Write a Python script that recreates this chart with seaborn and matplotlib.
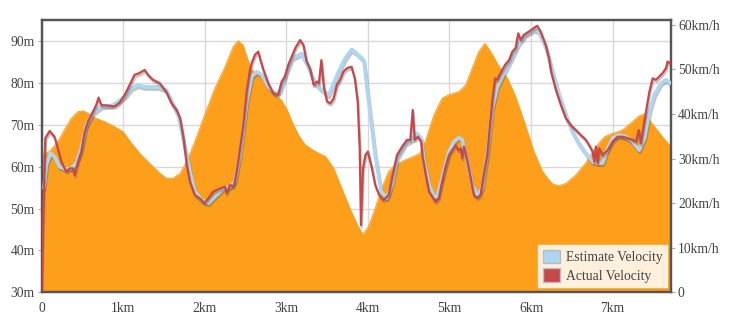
import matplotlib
matplotlib.use("Agg")
import matplotlib.pyplot as plt
import matplotlib.patheffects as pe
from matplotlib.patches import Patch
from matplotlib.ticker import FuncFormatter, MultipleLocator
import seaborn as sns
import pandas as pd

# Elevation profile along the route (distance km, elevation m)
elev_km = [0.0, 0.10, 0.20, 0.28, 0.365, 0.447, 0.509, 0.57, 0.67, 0.775, 0.897, 1.0,
           1.10, 1.22, 1.345, 1.45, 1.53, 1.615, 1.70, 1.78, 1.88, 2.0, 2.126, 2.25,
           2.35, 2.41, 2.47, 2.53, 2.576, 2.637, 2.74, 2.86, 2.94, 3.02, 3.07, 3.15,
           3.23, 3.355, 3.48, 3.58, 3.68, 3.78, 3.87, 3.94, 4.01, 4.09, 4.17, 4.255,
           4.335, 4.46, 4.56, 4.64, 4.71, 4.81, 4.91, 4.99, 5.12, 5.20, 5.28, 5.36,
           5.435, 5.505, 5.61, 5.71, 5.81, 5.93, 6.035, 6.14, 6.22, 6.265, 6.345, 6.43,
           6.55, 6.67, 6.795, 6.90, 7.0, 7.12, 7.22, 7.325, 7.39, 7.45, 7.53, 7.61, 7.715]
elev_m = [62.8, 63.6, 65.9, 68.7, 71.5, 73.1, 73.3, 72.7, 71.5, 70.7, 69.5, 68.3,
          65.6, 62.8, 60.4, 58.4, 57.2, 57.2, 58.4, 61.2, 65.9, 72.3, 78.7, 83.8,
          88.6, 90.0, 89.0, 85.4, 83.1, 82.3, 80.3, 77.1, 75.9, 73.1, 70.7, 67.5,
          65.2, 63.6, 62.4, 59.6, 54.8, 50.0, 46.1, 43.8, 45.7, 50.0, 54.8, 58.8,
          60.4, 61.6, 62.4, 63.2, 66.3, 72.3, 76.3, 77.1, 77.9, 79.5, 83.5, 87.4,
          89.4, 87.4, 83.8, 81.1, 76.7, 69.9, 63.6, 58.8, 56.8, 55.8, 55.4, 56.0,
          58.0, 60.8, 64.7, 67.1, 67.9, 68.7, 70.3, 72.1, 72.5, 71.1, 69.1, 67.1, 64.7]

# Estimated velocity (distance km, km/h)
est_km = [0.03, 0.06, 0.11, 0.16, 0.22, 0.284, 0.365, 0.426, 0.488, 0.55, 0.63, 0.733,
          0.855, 0.94, 1.02, 1.10, 1.18, 1.265, 1.43, 1.53, 1.676, 1.76, 1.82, 1.88,
          1.963, 2.044, 2.126, 2.228, 2.31, 2.37, 2.433, 2.515, 2.576, 2.637, 2.70,
          2.78, 2.86, 2.92, 3.005, 3.07, 3.19, 3.25, 3.355, 3.44, 3.52, 3.64, 3.72,
          3.80, 3.866, 3.95, 4.01, 4.09, 4.164, 4.234, 4.295, 4.357, 4.46, 4.54, 4.60,
          4.654, 4.69, 4.75, 4.81, 4.85, 4.91, 4.994, 5.055, 5.116, 5.157, 5.22, 5.28,
          5.34, 5.40, 5.463, 5.525, 5.586, 5.668, 5.75, 5.85, 5.934, 6.035, 6.097,
          6.18, 6.22, 6.265, 6.345, 6.428, 6.51, 6.59, 6.673, 6.755, 6.816, 6.877,
          6.94, 7.0, 7.08, 7.163, 7.245, 7.326, 7.39, 7.45, 7.51, 7.59, 7.653, 7.715]
est_kmh = [23.4, 28.6, 31.2, 30.4, 28.2, 27.7, 27.8, 29.0, 32.3, 37.5, 40.2, 41.7,
           41.9, 42.8, 43.9, 45.8, 46.5, 46.1, 46.1, 45.4, 39.8, 32.3, 27.1, 22.6,
           20.7, 20.0, 21.5, 23.3, 23.7, 24.8, 30.8, 42.8, 48.4, 49.5, 48.8,
           46.1, 44.7, 45.0, 49.5, 52.5, 53.6, 51.4, 46.9, 45.4, 44.3, 49.5, 52.5,
           54.5, 53.6, 52.1, 42.8, 30.8, 22.6, 21.1, 24.1, 30.1, 33.4, 34.2, 35.7,
           34.6, 29.3, 24.1, 21.5, 21.5, 25.6, 31.6, 33.8, 34.7, 34.2, 29.3, 24.1,
           21.8, 23.3, 30.8, 41.3, 46.1, 49.2, 52.1, 55.9, 57.8, 58.9, 58.5,
           55.1, 52.5, 49.5, 44.3, 39.8, 36.0, 33.4, 31.2, 29.3, 29.0, 29.0,
           32.3, 34.6, 35.3, 34.9, 33.8, 31.9, 34.6, 40.5, 44.3, 46.9, 47.7, 46.9]

# Measured velocity (distance km, km/h)
act_km = [0.0, 0.03, 0.047, 0.10, 0.16, 0.20, 0.243, 0.304, 0.346, 0.386, 0.407, 0.447,
          0.488, 0.53, 0.57, 0.63, 0.67, 0.70, 0.733, 0.815, 0.897, 0.958, 1.02, 1.08,
          1.14, 1.20, 1.265, 1.305, 1.366, 1.45, 1.53, 1.595, 1.657, 1.70, 1.74, 1.78,
          1.82, 1.88, 1.94, 2.0, 2.044, 2.105, 2.19, 2.25, 2.27, 2.31, 2.35, 2.37,
          2.41, 2.473, 2.515, 2.555, 2.576, 2.616, 2.657, 2.678, 2.72, 2.78, 2.84,
          2.90, 2.944, 2.984, 3.024, 3.08, 3.11, 3.17, 3.21, 3.25, 3.29, 3.336, 3.376,
          3.40, 3.43, 3.46, 3.50, 3.54, 3.58, 3.62, 3.66, 3.70, 3.744, 3.80, 3.84,
          3.875, 3.90, 3.915, 3.94, 3.97, 4.0, 4.05, 4.09, 4.14, 4.19, 4.255, 4.295,
          4.357, 4.42, 4.48, 4.52, 4.55, 4.573, 4.614, 4.654, 4.667, 4.71, 4.75, 4.79,
          4.83, 4.87, 4.91, 4.953, 4.994, 5.034, 5.076, 5.108, 5.137, 5.157, 5.178,
          5.22, 5.26, 5.30, 5.34, 5.38, 5.42, 5.463, 5.496, 5.525, 5.558, 5.586, 5.627,
          5.68, 5.73, 5.77, 5.81, 5.843, 5.873, 5.913, 5.974, 6.035, 6.076, 6.118,
          6.18, 6.22, 6.245, 6.305, 6.366, 6.428, 6.49, 6.55, 6.61, 6.673, 6.713,
          6.755, 6.775, 6.795, 6.816, 6.836, 6.877, 6.94, 7.0, 7.06, 7.12, 7.184,
          7.245, 7.286, 7.32, 7.347, 7.375, 7.408, 7.45, 7.49, 7.53, 7.57, 7.613,
          7.653, 7.674, 7.715]
act_kmh = [0.0, 23.4, 34.6, 36.2, 34.9, 32.3, 29.3, 27.1, 27.8, 27.8, 26.3, 29.3,
           31.6, 36.0, 38.3, 40.5, 42.0, 43.7, 42.0, 41.9, 41.7, 42.6, 44.3, 46.5,
           48.8, 49.2, 49.9, 48.8, 47.7, 46.9, 45.0, 42.4, 40.9, 39.0, 34.6, 28.6,
           24.8, 21.8, 21.1, 20.0, 21.1, 22.6, 23.3, 23.7, 22.2, 24.1, 23.7, 24.8,
           29.3, 37.5, 45.0, 49.9, 51.4, 53.3, 54.0, 52.5, 49.9, 46.9, 44.7,
           44.3, 47.3, 48.4, 51.0, 53.5, 54.8, 56.6, 55.5, 51.8, 50.3, 46.5, 47.3,
           46.9, 52.1, 46.1, 42.8, 42.4, 43.5, 46.5, 47.7, 49.5, 50.3, 50.6, 48.0,
           42.8, 32.3, 15.1, 27.8, 30.8, 31.6, 27.8, 24.1, 21.8, 20.7, 21.8, 25.6,
           30.8, 32.7, 34.2, 34.2, 40.9, 34.2, 34.9, 33.8, 30.8, 26.3, 22.6, 21.5,
           20.3, 21.1, 24.8, 28.2, 30.8, 31.9, 33.0, 31.9, 32.3, 30.1, 32.7,
           29.3, 25.6, 21.8, 21.2, 21.8, 26.3, 30.8, 37.5, 42.8, 48.0, 47.7, 49.2,
           51.0, 52.1, 54.0, 54.8, 58.1, 56.6, 57.8, 58.5, 59.3, 59.8, 58.5,
           55.5, 52.5, 49.5, 45.4, 42.0, 39.0, 37.5, 36.4, 35.3, 34.2, 33.0,
           31.6, 29.3, 32.7, 29.0, 32.3, 30.8, 31.9, 33.8, 34.9, 34.9, 34.6,
           34.2, 33.8, 36.4, 33.4, 36.8, 40.5, 45.0, 48.0, 47.7, 48.4, 49.2,
           50.3, 51.8, 51.2]

elev_df = pd.DataFrame({"km": elev_km, "m": elev_m})
est_df = pd.DataFrame({"km": est_km, "kmh": est_kmh})
act_df = pd.DataFrame({"km": act_km, "kmh": act_kmh})

ORANGE = "#FE9F1B"
BLUE = "#AED6F3"
RED = "#C8474A"
TEXT = "#444444"
FRAME = "#555555"

sns.set_style("white")
plt.rcParams["font.family"] = ["Liberation Serif", "DejaVu Serif"]
plt.rcParams["font.size"] = 9.8

fig = plt.figure(figsize=(7.4, 3.3), dpi=100)
ax = fig.add_axes([41.5 / 740, 1 - 292.3 / 330, 629.5 / 740, 272.3 / 330])

# Elevation as a filled area on the left axis
sns.lineplot(data=elev_df, x="km", y="m", ax=ax, color=ORANGE, linewidth=0.8, zorder=2)
ax.fill_between(elev_df["km"], elev_df["m"], 30, color=ORANGE, linewidth=0, zorder=2)
ax.set_xlim(0, 7.715)
ax.set_ylim(30, 95)
ax.yaxis.set_major_locator(MultipleLocator(10))
ax.xaxis.set_major_locator(MultipleLocator(1))
ax.yaxis.set_major_formatter(FuncFormatter(lambda v, p: f"{v:g}m"))
ax.xaxis.set_major_formatter(FuncFormatter(lambda v, p: "0" if v == 0 else f"{v:g}km"))
ax.grid(True, color="#d9d9d9", linewidth=1.0)
ax.set_axisbelow(True)
ax.set_xlabel("")
ax.set_ylabel("")

# Velocities on the right axis
ax2 = ax.twinx()
shadow = [pe.SimpleLineShadow(offset=(0.6, -1.6), shadow_color="#555555", alpha=0.35),
          pe.Normal()]
sns.lineplot(data=est_df, x="km", y="kmh", ax=ax2, color=BLUE, linewidth=2.6,
             path_effects=shadow, zorder=3)
sns.lineplot(data=act_df, x="km", y="kmh", ax=ax2, color=RED, linewidth=1.6,
             path_effects=shadow, zorder=4)
ax2.set_ylim(0, 61.1)
ax2.yaxis.set_major_locator(MultipleLocator(10))
ax2.yaxis.set_major_formatter(FuncFormatter(lambda v, p: "0" if v == 0 else f"{v:g}km/h"))
ax2.set_xlabel("")
ax2.set_ylabel("")
ax2.grid(False)

for a in (ax, ax2):
    for side, sp in a.spines.items():
        sp.set_visible(True)
        sp.set_color(FRAME)
        sp.set_linewidth(1.6)
    a.tick_params(colors="#aaaaaa", labelcolor=TEXT, length=3, width=0.8, pad=2)
ax.tick_params(axis="x", pad=4)

handles = [Patch(facecolor=BLUE, edgecolor="#bbbbbb", linewidth=1.0, label="Estimate Velocity"),
           Patch(facecolor=RED, edgecolor="#bbbbbb", linewidth=1.0, label="Actual Velocity")]
leg = ax2.legend(handles=handles, loc="lower right", bbox_to_anchor=(0.994, 0.018),
                 frameon=True, fancybox=False, framealpha=1.0, borderaxespad=0,
                 handlelength=1.25, handleheight=1.1, handletextpad=0.45,
                 labelspacing=0.3, borderpad=0.35, fontsize=9.8)
leg.get_frame().set_facecolor("#FFF0DE")
leg.get_frame().set_edgecolor("#FFF0DE")
for t in leg.get_texts():
    t.set_color(TEXT)

fig.savefig("out.png", dpi=100, facecolor="white")
